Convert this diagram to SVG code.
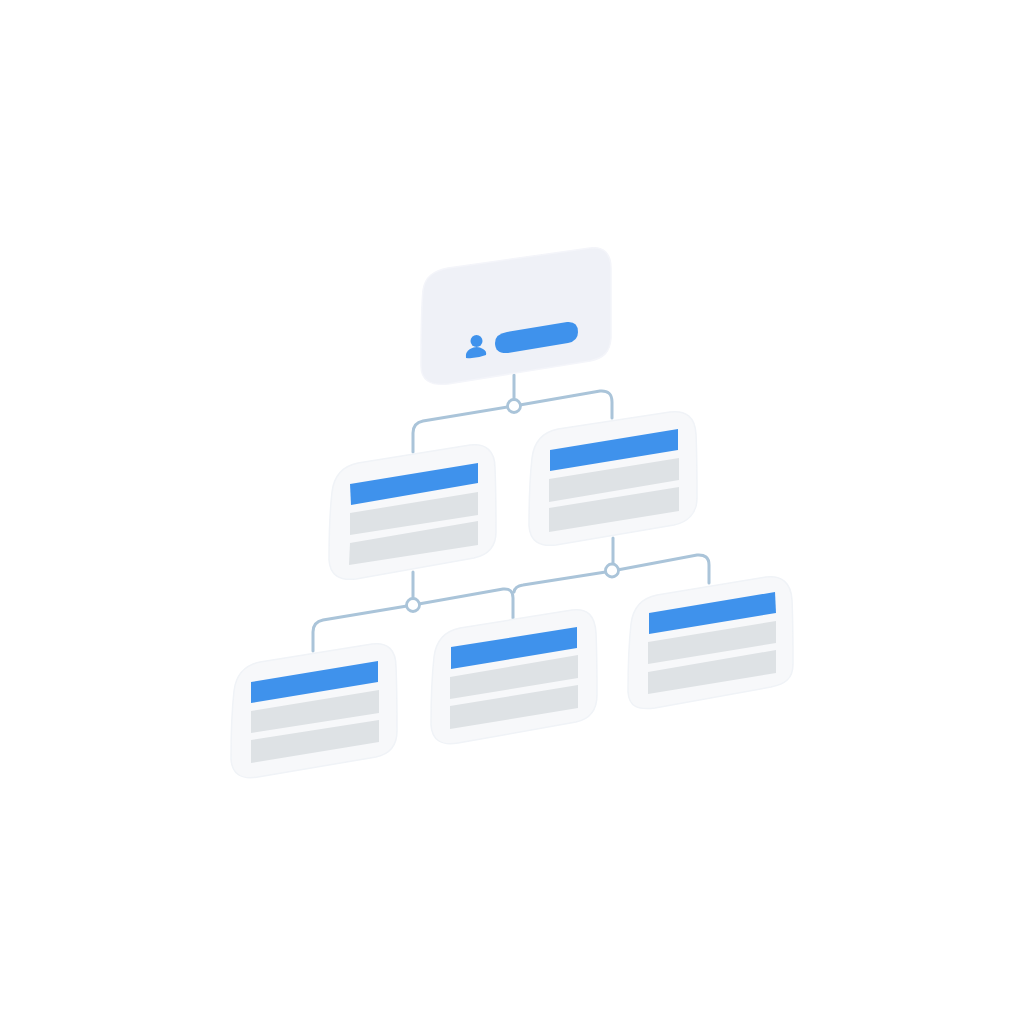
<svg xmlns="http://www.w3.org/2000/svg" width="1024" height="1024" viewBox="0 0 1024 1024">
<defs>
<filter id="soft" filterUnits="userSpaceOnUse" x="0" y="0" width="1024" height="1024"><feGaussianBlur stdDeviation="0.5"/></filter>
</defs>
<style>
.card{fill:#f7f8fa;stroke:#f0f3f7;stroke-width:1.500;filter:url(#soft)}
.root{fill:#eff1f7;stroke:#f4f5fa;stroke-width:1.500;filter:url(#soft)}
.blue{fill:#3f92ec}
.gray{fill:#dee2e5}
.wire{fill:none;stroke:#aac4d9;stroke-width:3;stroke-linecap:round;filter:url(#soft)}
.dot{fill:#fff;stroke:#aac4d9;stroke-width:2.800}
</style>
<rect width="1024" height="1024" fill="#fff"/>
<g id="connectors">
<path class="wire" d="M514 375V406"/>
<path class="wire" d="M413 452V433Q413 423 423 421L514 406L600 391Q612 390 612 402V418"/>
<path class="wire" d="M613 538V571"/>
<path class="wire" d="M514 592Q515 586 523 585L612 571L697 555Q709 554 709 565V583"/>
<path class="wire" d="M413 572V605"/>
<path class="wire" d="M313 651V632Q313 622 323 620L413 605L503 589Q513 588 513 598V618"/>
<circle class="dot" cx="514" cy="406" r="6.500"/>
<circle class="dot" cx="612" cy="570.500" r="6.500"/>
<circle class="dot" cx="413" cy="605" r="6.500"/>
</g>
<g id="node-root">
<path class="root" d="M421 366C421 340 421 310 423 290C425 277 433 271 448 268L590 248C604 246 611 254 611 268L611 338C610 352 604 358 590 361L448 384C430 386 421 380 421 366Z"/>
<path class="blue" d="M507 332L567 322Q578 321 578 332Q578 341 568 343L508 353Q495 354 495 343Q495 334 507 332Z"/>
<circle class="blue" cx="476.500" cy="341" r="6"/>
<path class="blue" d="M466 358Q465 352 470 349Q477 345 483 349Q487 351 486 355Q476 359 466 358Z"/>
</g>
<g id="node-mid-left">
<path class="card" d="M329 560C329 530 330 510 332 492C334 475 343 466 358 463L470 445C486 443 495 451 495 468C496 490 496 510 496 532C496 547 488 555 474 558L356 579C339 581 330 575 329 560Z"/>
<path class="blue" d="M350 484L478 463V483L351 505Z"/>
<path class="gray" d="M350 513L478 492V515L350 535Z"/>
<path class="gray" d="M350 543L478 521V545L349 565Z"/>
</g>
<g id="node-mid-right">
<path class="card" d="M529 526C529 496 530 476 532 458C534 441 543 432 558 429L670 412C686 410 695 417 696 434C697 456 697 476 697 498C697 513 688 522 674 525L556 545C539 547 530 541 529 526Z"/>
<path class="blue" d="M550 450L678 429V450L550 471Z"/>
<path class="gray" d="M549 479L679 458V480L549 502Z"/>
<path class="gray" d="M549 508L679 487V511L549 532Z"/>
</g>
<g id="node-bottom-left">
<path class="card" d="M231 759C231 729 232 709 234 691C236 674 245 665 260 662L372 644C388 642 396 650 396 667C397 689 397 709 397 731C397 746 390 754 376 757L258 777C241 780 232 774 231 759Z"/>
<path class="blue" d="M251 682L378 661V682L251 703Z"/>
<path class="gray" d="M251 711L379 690V713L251 733Z"/>
<path class="gray" d="M251 740L379 720V742L251 763Z"/>
</g>
<g id="node-bottom-center">
<path class="card" d="M431 725C431 695 432 675 434 657C436 640 445 631 460 628L572 610C588 608 595 616 596 633C597 655 597 675 597 695C597 710 590 719 576 722L458 743C441 746 432 740 431 725Z"/>
<path class="blue" d="M451 647L577 627V648L451 669Z"/>
<path class="gray" d="M450 677L578 655V678L450 699Z"/>
<path class="gray" d="M450 706L578 685V708L450 729Z"/>
</g>
<g id="node-bottom-right">
<path class="card" d="M628 692C628 662 629 642 631 624C633 607 642 598 657 595L766 577C782 575 791 583 792 600C793 622 793 642 793 664C793 679 785 684 771 687L655 708C638 710 629 707 628 692Z"/>
<path class="blue" d="M649 613L775 592L776 613L649 634Z"/>
<path class="gray" d="M648 642L776 621V643L648 664Z"/>
<path class="gray" d="M648 672L776 650V673L648 694Z"/>
</g>
</svg>
